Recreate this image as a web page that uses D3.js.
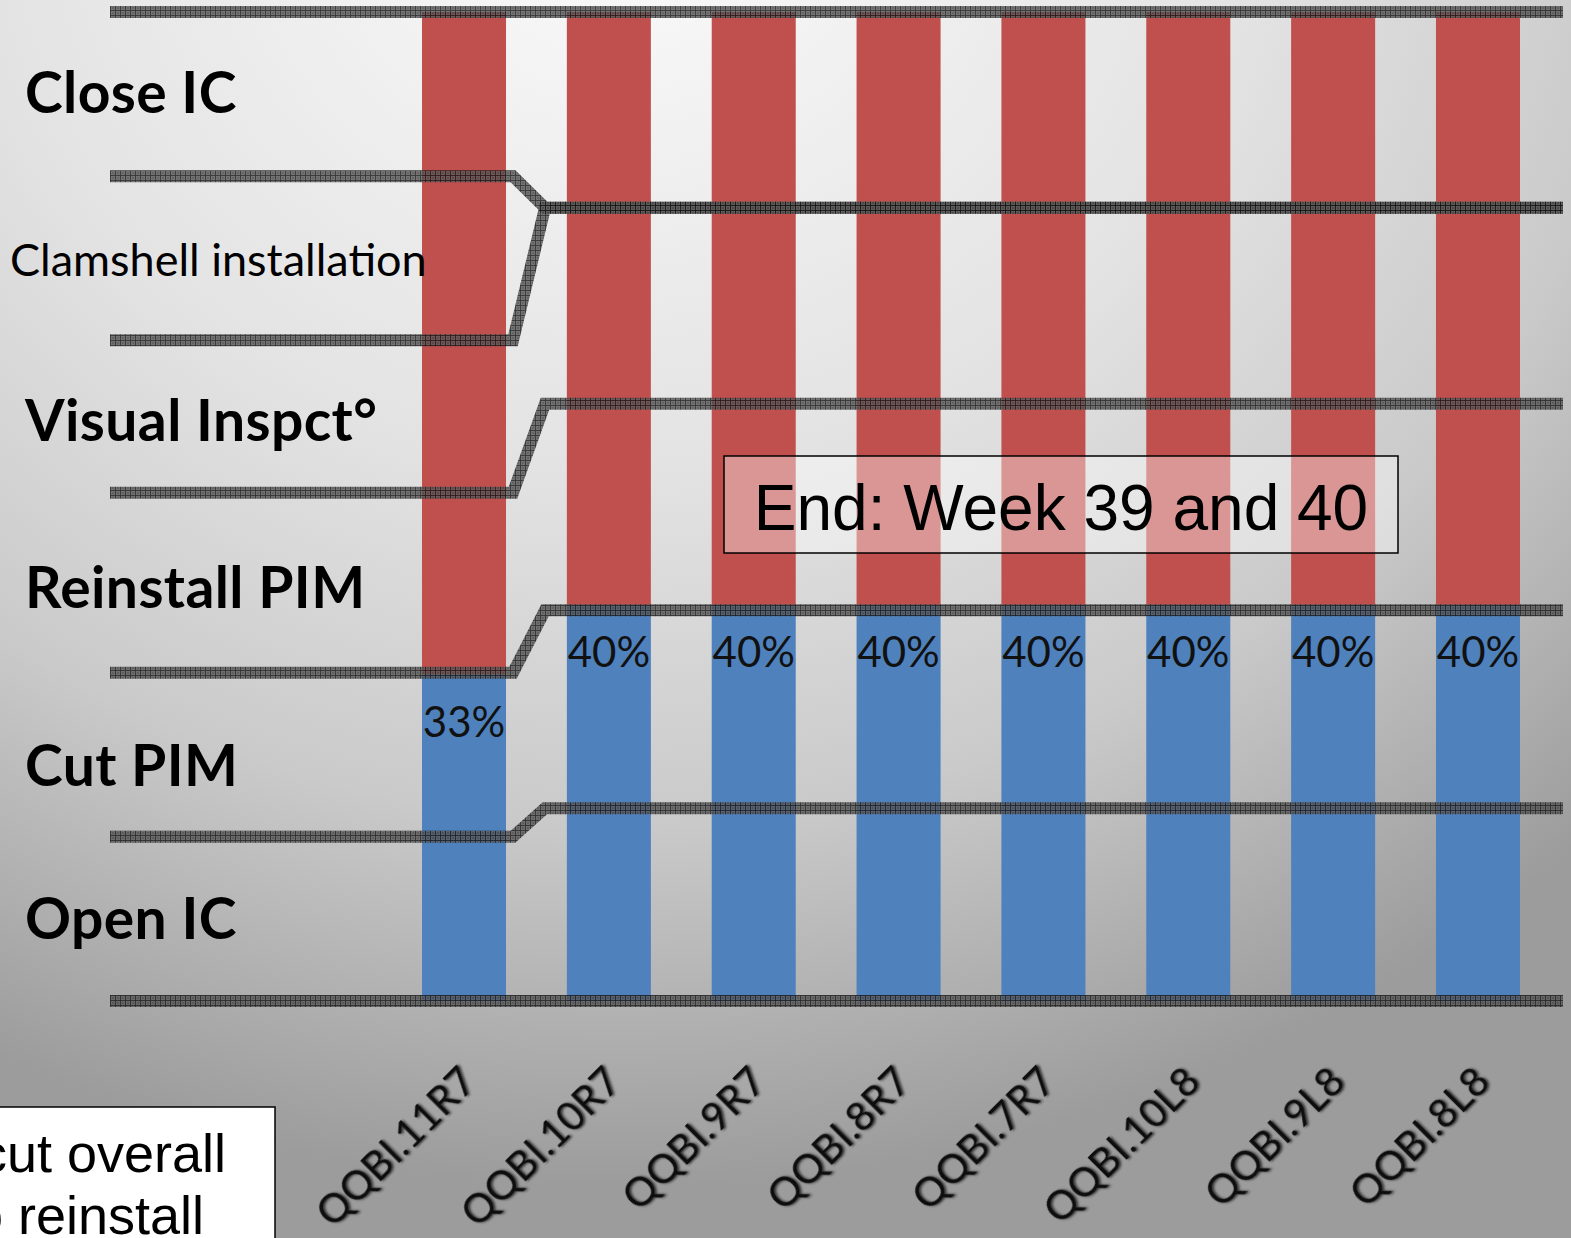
<!DOCTYPE html>
<html>
<head>
<meta charset="utf-8">
<script src="https://cdn.jsdelivr.net/npm/d3@7"></script>
<style>
  html, body { margin: 0; padding: 0; overflow: hidden; }
  svg { display: block; }
</style>
</head>
<body>
<div id="chart"></div>
<script>
// bars: share of the work already done (blue), rest is left (red)
const categories = ["QQBI.11R7", "QQBI.10R7", "QQBI.9R7", "QQBI.8R7", "QQBI.7R7", "QQBI.10L8", "QQBI.9L8", "QQBI.8L8"];
const donePct = [33, 40, 40, 40, 40, 40, 40, 40];

// stages, bottom to top, with their boundaries (in %) for the first bar and for the others
const stageNames = ["Open IC", "Cut PIM", "Reinstall PIM", "Visual Inspct°", "Clamshell installation", "Close IC"];
const stageBold = [true, true, true, true, false, true];
const leftBounds = [0, 16.6, 33.2, 51.4, 66.8, 83.4, 100];
const rightBounds = [0, 19.5, 39.5, 60.4, 80.2, 80.2, 100];

const endNote = "End: Week 39 and 40";
const sideNote = ["cut overall", "to reinstall"];

// layout constants
const w = 1571;
const h = 1238;

const svg = d3.select("#chart").append("svg")
  .attr("width", w)
  .attr("height", h);

const defs = svg.append("defs");

// background: light at the top, grey towards the bottom and the right
const bg = defs.append("radialGradient")
  .attr("id", "bg")
  .attr("gradientUnits", "userSpaceOnUse")
  .attr("cx", 620).attr("cy", -120).attr("r", 1420)
  .attr("gradientTransform", "translate(620,-120) scale(1,0.92) translate(-620,120)");
bg.append("stop").attr("offset", 0).attr("stop-color", "#fcfcfc");
bg.append("stop").attr("offset", 0.45).attr("stop-color", "#e3e3e3");
bg.append("stop").attr("offset", 0.72).attr("stop-color", "#cacaca");
bg.append("stop").attr("offset", 1).attr("stop-color", "#9c9c9c");

// hatched look of the stage lines
const pat = defs.append("pattern")
  .attr("id", "hatch")
  .attr("patternUnits", "userSpaceOnUse")
  .attr("width", 5).attr("height", 5);
pat.append("rect").attr("width", 5).attr("height", 5).attr("fill", "#5a5a5a");
pat.append("path").attr("d", "M0,0.5H5M0.5,0V5").attr("stroke", "#111").attr("stroke-width", 0.9);
pat.append("circle").attr("cx", 3).attr("cy", 3).attr("r", 0.7).attr("fill", "#222");

const shadow = defs.append("filter").attr("id", "shadow")
  .attr("x", "-10%").attr("y", "-10%").attr("width", "120%").attr("height", "130%");
shadow.append("feDropShadow")
  .attr("dx", 1.5).attr("dy", 1.5).attr("stdDeviation", 0.8)
  .attr("flood-color", "#222").attr("flood-opacity", 0.85);

svg.append("rect")
  .attr("width", w).attr("height", h)
  .attr("fill", "url(#bg)");

// scales
const xScale = d3.scaleBand()
  .domain(categories)
  .range([422, 1520])
  .paddingInner(0.42)
  .paddingOuter(0);

const yScale = d3.scaleLinear()
  .domain([0, 100])
  .range([1001, 12]);

const bars = svg.append("g");

// remaining part (red)
bars.selectAll("rect.todo")
  .data(categories)
  .enter()
  .append("rect")
  .attr("class", "todo")
  .attr("x", d => xScale(d))
  .attr("width", xScale.bandwidth())
  .attr("y", yScale(100))
  .attr("height", (d, i) => yScale(donePct[i]) - yScale(100))
  .attr("fill", "#c0504d");

// done part (blue)
bars.selectAll("rect.done")
  .data(categories)
  .enter()
  .append("rect")
  .attr("class", "done")
  .attr("x", d => xScale(d))
  .attr("width", xScale.bandwidth())
  .attr("y", (d, i) => yScale(donePct[i]))
  .attr("height", (d, i) => yScale(0) - yScale(donePct[i]))
  .attr("fill", "#4f81bd");

// percent labels
bars.selectAll("text.pct")
  .data(categories)
  .enter()
  .append("text")
  .attr("class", "pct")
  .attr("x", d => xScale(d) + xScale.bandwidth() / 2)
  .attr("y", (d, i) => yScale(donePct[i]) + 62)
  .attr("text-anchor", "middle")
  .style("font-family", "Lato")
  .style("font-size", "42px")
  .style("fill", "#111")
  .text((d, i) => donePct[i] + "%");

// stage lines: first bar has its own levels, then they jump to the common ones
const xL0 = 110, xL1 = 513, xR0 = 545, xR1 = 1563;
const line = d3.line();
const stageLines = leftBounds.map((b, i) => {
  if (i === 0 || i === leftBounds.length - 1) {
    return [[xL0, yScale(b)], [xR1, yScale(b)]];
  }
  return [[xL0, yScale(b)], [xL1, yScale(b)], [xR0, yScale(rightBounds[i])], [xR1, yScale(rightBounds[i])]];
});

svg.append("g")
  .selectAll("path")
  .data(stageLines)
  .enter()
  .append("path")
  .attr("d", d => line(d))
  .attr("fill", "none")
  .attr("stroke", "url(#hatch)")
  .attr("stroke-width", 12)
  .attr("stroke-linejoin", "miter")
  .attr("opacity", 0.82);

// stage names on the left, near the middle of the first bar's levels
const labelNudge = [0, 11, 5, 4, 2, -2];
svg.append("g")
  .selectAll("text")
  .data(stageNames)
  .enter()
  .append("text")
  .attr("x", (d, i) => stageBold[i] ? 25 : 10)
  .attr("y", (d, i) => (yScale(leftBounds[i]) + yScale(leftBounds[i + 1])) / 2 + labelNudge[i])
  .attr("dy", "0.36em")
  .style("font-family", "Lato")
  .style("font-weight", (d, i) => stageBold[i] ? 700 : 400)
  .style("font-size", (d, i) => stageBold[i] ? "57px" : "45px")
  .style("letter-spacing", (d, i) => stageBold[i] ? "0.4px" : "0px")
  .style("fill", "#000")
  .text(d => d);

// category labels, rotated
svg.append("g")
  .selectAll("text")
  .data(categories)
  .enter()
  .append("text")
  .attr("transform", d => `translate(${xScale(d) + xScale.bandwidth() / 2 + 14},1084) rotate(-45)`)
  .attr("text-anchor", "end")
  .style("font-family", "Lato")
  .style("font-size", "40px")
  .style("fill", "#111")
  .attr("filter", "url(#shadow)")
  .text(d => d);

// end note box
const endBox = svg.append("g");
endBox.append("rect")
  .attr("x", 724).attr("y", 456)
  .attr("width", 674).attr("height", 97)
  .attr("fill", "#fff")
  .attr("fill-opacity", 0.4)
  .attr("stroke", "#000")
  .attr("stroke-width", 1.5);
endBox.append("text")
  .attr("x", 1061).attr("y", 530)
  .attr("text-anchor", "middle")
  .style("font-family", "Liberation Sans")
  .style("font-size", "64px")
  .style("fill", "#000")
  .text(endNote);

// side note box, cut off at the left edge
const sideBox = svg.append("g");
sideBox.append("rect")
  .attr("x", -10).attr("y", 1107)
  .attr("width", 285).attr("height", 200)
  .attr("fill", "#fff")
  .attr("stroke", "#000")
  .attr("stroke-width", 1.5);
sideBox.selectAll("text")
  .data(sideNote)
  .enter()
  .append("text")
  .attr("x", (d, i) => i === 0 ? 226 : 204)
  .attr("y", (d, i) => 1172 + i * 62)
  .attr("text-anchor", "end")
  .style("font-family", "Liberation Sans")
  .style("font-size", "54px")
  .style("fill", "#000")
  .text(d => d);
</script>
</body>
</html>
